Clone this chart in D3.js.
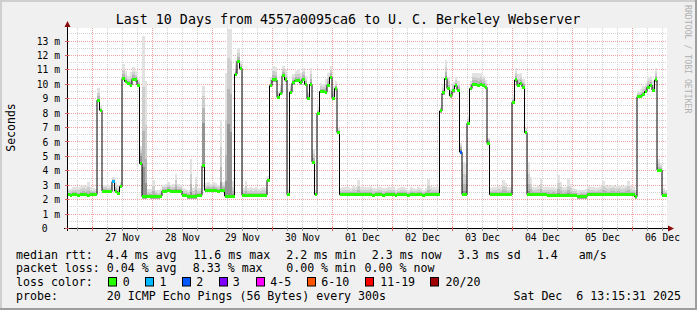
<!DOCTYPE html>
<html><head><meta charset="utf-8">
<script src="https://cdn.jsdelivr.net/npm/d3@7"></script>
<style>
body{margin:0;background:#f0f0f0}
svg{display:block}
text{font-family:"DejaVu Sans Mono",monospace;fill:#000;white-space:pre}
</style>
</head><body>
<svg id="c" width="697" height="310"></svg>
<script>
// ---------------- data ----------------
const title = "Last 10 Days from 4557a0095ca6 to U. C. Berkeley Webserver";
const startTime = new Date(2025, 10, 26, 14, 0); // hourly steps
// median rtt (ms), one value per hour
const medianRtt = [
 2.35,2.3,2.35,2.35,2.3,2.35,2.35,2.35,2.3,2.35,2.35,2.35, 8.9,8.2,2.6,2.6,2.55,2.55,3.25,2.6,2.45,2.9,10.4,10.2,
 10.05,9.95,10.35,10.3,9.95,4.5,2.2,2.2,2.25,2.2,2.2,2.2,2.2,2.25,2.6,2.6,2.65,2.6,2.6,2.6,2.6,2.6,2.3,2.3,
 2.2,2.2,2.2,2.2,2.3,2.3,4.35,2.65,2.65,2.65,2.65,2.65,2.6,2.65,2.65,2.25,2.25,2.25,2.25,10.7,11.6,11.1,2.3,2.3,
 2.3,2.3,2.3,2.3,2.3,2.3,2.3,2.3,3.35,9.9,10.3,10.3,9.1,9.35,10.6,10.3,2.35,9.45,10.1,10.25,10.25,10.1,10.35,10.0,
 9.0,10.0,4.6,2.35,8.0,9.5,9.5,9.45,9.95,10.5,9.05,9.7,6.65,2.35,2.35,2.35,2.35,2.35,2.35,2.35,2.35,2.35,2.35,2.35,
 2.35,2.35,2.3,2.35,2.35,2.35,2.3,2.35,2.35,2.35,2.35,2.3,2.35,2.35,2.35,2.35,2.3,2.35,2.35,2.35,2.35,2.35,2.3,2.35,
 2.35,2.35,2.35,2.35,2.35,8.15,9.4,10.4,9.7,9.2,9.55,9.9,9.6,5.3,2.35,2.35,7.3,9.7,10.0,10.0,9.9,10.0,9.9,9.8,
 5.9,2.35,2.35,2.35,2.35,2.35,2.35,2.35,2.35,2.35,8.77,10.3,9.9,10.05,9.8,6.65,2.35,2.35,2.35,2.35,2.35,2.35,2.35,2.35,
 2.3,2.3,2.3,2.3,2.3,2.3,2.3,2.3,2.3,2.3,2.3,2.3,2.2,2.2,2.2,2.2,2.35,2.35,2.35,2.35,2.35,2.35,2.35,2.35,
 2.35,2.35,2.35,2.35,2.35,2.35,2.35,2.35,2.35,2.35,2.35,2.2,9.14,9.14,9.3,9.5,9.8,9.95,9.6,10.3,4.05,4.05,2.3,2.3
];
// smoke: spread of the slowest ping above the median (ms), one value per hour
const smokeUp = [
 0.4,0.45,0.5,0.5,0.55,0.6,0.7,0.6,0.95,0.5,0.45,0.4,0.85,0.3,0.4,0.4,0.45,0.4,0.3,0.6,0.5,0.3,1.0,0.7,
 0.5,0.9,0.85,0.6,0.4,1.2,11.15,8.0,0.5,0.55,1.15,0.5,0.45,0.5,0.45,0.5,0.6,0.45,0.5,1.2,0.5,0.4,0.5,0.45,
 0.5,2.6,0.6,1.4,0.5,0.5,5.55,0.5,0.6,0.45,0.6,0.5,0.45,4.85,0.6,8.55,11.6,11.6,1.05,1.0,0.9,0.5,0.5,1.0,
 0.5,0.55,0.5,0.55,0.45,0.5,0.55,0.5,0.3,0.6,1.0,0.9,0.4,0.6,0.7,0.7,0.3,0.6,0.6,0.7,0.8,0.7,0.8,0.6,
 0.5,1.1,0.9,0.3,0.4,0.6,0.5,0.9,0.8,0.8,0.8,0.5,0.3,0.45,0.5,0.55,0.5,0.45,0.6,0.5,1.0,0.55,0.5,0.5,
 0.5,0.6,0.5,0.45,0.55,0.5,0.5,0.45,0.5,0.55,0.5,0.4,0.45,0.5,0.5,0.45,0.4,0.5,0.45,0.4,0.5,0.45,0.4,0.45,
 1.05,0.6,0.5,0.55,0.5,0.3,0.6,1.3,0.8,0.5,0.6,0.6,0.6,0.6,2.25,2.2,0.5,0.5,0.8,0.8,0.9,0.8,0.7,0.5,
 0.4,0.45,0.5,0.55,0.6,0.5,1.0,0.8,0.55,0.5,0.5,0.8,0.8,0.7,0.6,0.3,2.25,1.2,0.5,0.5,0.6,1.15,0.55,0.5,
 0.6,0.55,0.6,0.5,1.4,0.9,0.55,0.6,1.1,0.8,0.5,0.45,0.45,0.5,0.5,0.55,0.6,0.55,0.5,0.45,0.5,0.6,0.95,0.7,
 0.6,0.7,0.7,0.6,0.7,0.6,0.6,0.7,0.95,0.6,0.5,0.5,0.4,0.5,0.6,0.6,0.7,0.6,0.6,0.8,0.75,0.5,0.5,0.4
];
// hours whose pings cluster high (darker smoke): [hour, concentration]
const smokeShade = [[29,0.4],[30,0.8],[54,0.3],[64,0.4],[65,0.45],[157,0.5],[168,0.5]];
// hours with packet loss: [hour, loss class index]
const lossEvents = [[18,1],[157,2]];
const lossLabels = ["0","1","2","3","4-5","6-10","11-19","20/20"];
const lossColors = ["#26ff00","#00b8ff","#0059ff","#7e00ff","#ff00ff","#ff5500","#ff0000","#a10000"];
const yTicks = [0,1,2,3,4,5,6,7,8,9,10,11,12,13];
const dayLabels = ["27 Nov","28 Nov","29 Nov","30 Nov","01 Dec","02 Dec","03 Dec","04 Dec","05 Dec","06 Dec"];
const rttStats = ["4.4 ms avg","11.6 ms max","2.2 ms min","2.3 ms now","3.3 ms sd","1.4","am/s"];
const lossStats = ["0.04 % avg","8.33 % max","0.00 % min","0.00 % now"];
const probeText = "20 ICMP Echo Pings (56 Bytes) every 300s";
const stampText = "Sat Dec \u00a06 13:15:31 2025";

// ---------------- layout ----------------
const svg = d3.select("#c");
const P = {l:67, r:667, t:28, b:228};
const HOUR = 3600e3;
const tt = h => new Date(startTime.getTime() + h*HOUR);
const x = d3.scaleTime().domain([tt(0), tt(medianRtt.length)]).range([P.l, P.r]);
const y = d3.scaleLinear().domain([0, 13.87]).range([P.b + 0.5, P.t + 0.5]);

// background + 3D border
svg.append("rect").attr("width",697).attr("height",310).attr("fill","#f0f0f0");
svg.append("rect").attr("x",0).attr("y",0).attr("width",697).attr("height",2).attr("fill","#cfcfcf");
svg.append("rect").attr("x",0).attr("y",0).attr("width",2).attr("height",310).attr("fill","#cfcfcf");
svg.append("rect").attr("x",0).attr("y",308).attr("width",697).attr("height",2).attr("fill","#9e9e9e");
svg.append("rect").attr("x",695).attr("y",0).attr("width",2).attr("height",310).attr("fill","#9e9e9e");
svg.append("rect").attr("x",P.l).attr("y",P.t).attr("width",P.r-P.l).attr("height",P.b-P.t).attr("fill","#fff");

// grid
const grid = svg.append("g").attr("shape-rendering","crispEdges");
const vTicks = x.ticks(d3.timeHour.every(6)).filter(d => x(d) > P.l && x(d) <= P.r);
vTicks.forEach(d => {
  const major = d.getHours() === 0;
  const xx = Math.round(x(d)) + 0.5;
  grid.append("line").attr("x1",xx).attr("x2",xx).attr("y1",P.t).attr("y2",P.b)
    .attr("stroke", major ? "#f3a0a0" : "#d2d2d2").attr("stroke-dasharray","1,1");
});
d3.range(0.5, 14, 0.5).forEach(v => {
  const yy = Math.round(y(v) - 0.5) + 0.5;
  if (yy < P.t) return;
  const major = Number.isInteger(v);
  grid.append("line").attr("x1",P.l).attr("x2",P.r).attr("y1",yy).attr("y2",yy)
    .attr("stroke", major ? "#f3a0a0" : "#d2d2d2").attr("stroke-dasharray","1,1");
});

// smoke
const shadeMap = new Map(smokeShade);
const lossMap = new Map(lossEvents);
const layers = [[1,"#e2e2e2"],[0.62,"#cecece"],[0.33,"#b5b5b5"],[0.12,"#939393"]];
const smoke = svg.append("g").attr("shape-rendering","crispEdges");
medianRtt.forEach((m,h) => {
  const s = shadeMap.has(h) ? shadeMap.get(h) : 1;
  const x0 = x(tt(h)), x1 = x(tt(h+1));
  layers.forEach(([q,c]) => {
    const top = Math.min(m + smokeUp[h]*Math.pow(q,s), 13.87);
    smoke.append("rect").attr("x",x0).attr("width",x1-x0)
      .attr("y",y(top)).attr("height",Math.max(0,y(m)-y(top))).attr("fill",c);
  });
  smoke.append("rect").attr("x",x0).attr("width",x1-x0)
    .attr("y",y(m)).attr("height",y(m-0.12)-y(m)).attr("fill","#a6a6a6");
});

// median line (black steps) + loss coloured steps
const pts = medianRtt.map((m,h) => [tt(h), m]).concat([[tt(medianRtt.length), medianRtt[medianRtt.length-1]]]);
svg.append("path").datum(pts)
  .attr("d", d3.line().x(d => x(d[0])).y(d => y(d[1])).curve(d3.curveStepAfter))
  .attr("fill","none").attr("stroke","#000").attr("stroke-width",1);
const med = svg.append("g").attr("shape-rendering","crispEdges");
medianRtt.forEach((m,h) => {
  const x0 = x(tt(h)), x1 = x(tt(h+1));
  med.append("rect").attr("x",x0).attr("width",x1-x0).attr("y",y(m)-1.5).attr("height",3)
    .attr("fill", lossColors[lossMap.has(h) ? lossMap.get(h) : 0]);
});

// axes lines, ticks, arrows
const ax = svg.append("g").attr("shape-rendering","crispEdges");
ax.append("line").attr("x1",P.l-3).attr("x2",P.r+2).attr("y1",P.b+0.5).attr("y2",P.b+0.5).attr("stroke","#000");
ax.append("line").attr("x1",P.l+0.5).attr("x2",P.l+0.5).attr("y1",P.b+3).attr("y2",P.t-2).attr("stroke","#000");
vTicks.forEach(d => {
  const major = d.getHours() === 0;
  const xx = Math.round(x(d)) + 0.5;
  ax.append("line").attr("x1",xx).attr("x2",xx).attr("y1",P.b-1).attr("y2",P.b+3)
    .attr("stroke", major ? "#e06060" : "#999");
});
yTicks.forEach(v => {
  const yy = Math.round(y(v) - 0.5) + 0.5;
  ax.append("line").attr("x1",P.l-2).attr("x2",P.l+2).attr("y1",yy).attr("y2",yy).attr("stroke","#e06060");
});
svg.append("path").attr("d",`M${P.l-2.5},${P.t-1} L${P.l+3.5},${P.t-1} L${P.l+0.5},${P.t-7} Z`).attr("fill","#8a0a0a");
svg.append("path").attr("d",`M${P.r+1},${P.b-2.5} L${P.r+1},${P.b+3.5} L${P.r+7},${P.b+0.5} Z`).attr("fill","#8a0a0a");

// x axis labels
const noon = dayLabels.map((_,i) => tt(22 + 24*i));
const xAxis = svg.append("g").attr("transform",`translate(0,${P.b})`)
  .call(d3.axisBottom(x).tickValues(noon).tickFormat((d,i) => dayLabels[i]).tickSize(0).tickPadding(6));
xAxis.select(".domain").remove();
xAxis.selectAll("text").attr("font-family","DejaVu Sans Mono").attr("font-size","9.7px").attr("fill","#000");

// y axis labels
const yAxis = svg.append("g").attr("transform",`translate(${P.l},0)`)
  .call(d3.axisLeft(y).tickValues(yTicks).tickFormat(d => d === 0 ? "0" : d + " m").tickSize(0).tickPadding(7));
yAxis.select(".domain").remove();
yAxis.selectAll("text").attr("font-family","DejaVu Sans Mono").attr("font-size","9.7px").attr("fill","#000")
  .filter(d => d === 0).attr("x", -19.5);

// titles
svg.append("text").attr("x",348).attr("y",24).attr("text-anchor","middle").attr("font-size","13.3px").text(title);
svg.append("text").attr("transform","translate(15,127.5) rotate(-90)").attr("text-anchor","middle")
  .attr("font-size","11.5px").text("Seconds");
svg.append("text").attr("transform","translate(685,5) rotate(90)").attr("font-size","8.2px")
  .style("fill","#b0b0b0").text("RRDTOOL / TOBI OETIKER");

// legend
const LF = "11.6px";
const rows = [258.5, 272.2, 285.9, 299.6];
const leg = svg.append("g").attr("font-size",LF);
leg.append("text").attr("x",16).attr("y",rows[0]).text("median rtt:");
[106.8,193.4,286.2,371.8,457.8,536.8,578.8].forEach((cx,i) =>
  leg.append("text").attr("x",cx).attr("y",rows[0]).text(rttStats[i]));
leg.append("text").attr("x",16).attr("y",rows[1]).text("packet loss:");
[106.8,192.8,286.2,364.6].forEach((cx,i) =>
  leg.append("text").attr("x",cx).attr("y",rows[1]).text(lossStats[i]));
leg.append("text").attr("x",16).attr("y",rows[2]).text("loss color:");
const boxX = [108.5,145.5,182.5,219.5,256.5,307.5,365.5,430.5];
const labX = [122.8,159.6,196.2,232.8,270.2,321.2,380.2,445.6];
lossLabels.forEach((lab,i) => {
  leg.append("rect").attr("x",boxX[i]).attr("y",277.5).attr("width",8).attr("height",8.5)
    .attr("fill",lossColors[i]).attr("stroke","#000").attr("stroke-width",1);
  leg.append("text").attr("x",labX[i]).attr("y",rows[2]).text(lab);
});
leg.append("text").attr("x",16).attr("y",rows[3]).text("probe:");
leg.append("text").attr("x",106.8).attr("y",rows[3]).text(probeText);
leg.append("text").attr("x",681).attr("y",rows[3]).attr("text-anchor","end").text(stampText);
</script>
</body></html>
